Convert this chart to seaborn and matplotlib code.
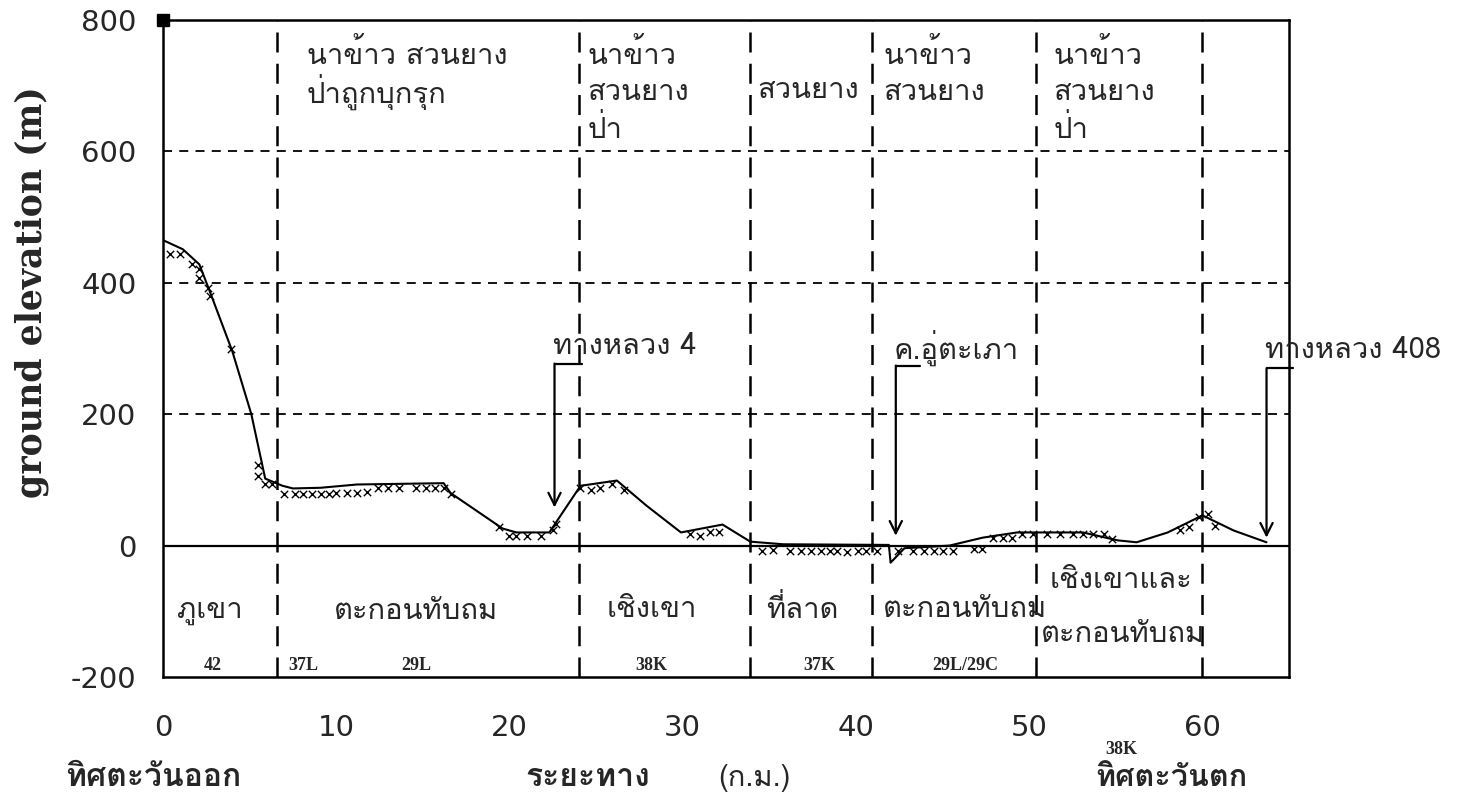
import numpy as np
import pandas as pd
import matplotlib
matplotlib.use("Agg")
import matplotlib.pyplot as plt
import seaborn as sns
from matplotlib import font_manager
from matplotlib.ft2font import FT2Font

# ---------------------------------------------------------------- data
# ground profile (km from the east end, elevation in m)
profile_km = [0, 1.15, 2.1, 2.7, 4.0, 5.1, 5.9, 6.9, 7.5, 9.1, 11.2, 16.2, 16.6,
              19.6, 20.4, 22.3, 24.1, 26.2, 27.9, 29.9, 32.3, 33.9, 35.8, 41.9,
              42.0, 42.8, 45.4, 47.3, 49.3, 53.1, 55.1, 56.2, 58.0, 60.0, 61.8, 63.7]
profile_m = [465, 451, 428, 387, 296, 200, 102, 91, 87, 88, 93, 95, 80,
             26, 20, 20, 91, 99, 61, 20, 32, 6, 2, 1,
             -26, -4, 0, 12, 20, 20, 8, 5, 20, 46, 23, 5]

# surveyed spot heights
spot_km = [0.4, 1.0, 1.7, 2.1, 2.1, 2.6, 2.7, 3.9, 5.5, 5.5, 5.9, 6.3,
           7.0, 7.6, 8.1, 8.6, 9.1, 9.6, 10.0, 10.6, 11.2, 11.8, 12.4, 13.0,
           13.6, 14.6, 15.2, 15.7, 16.2, 16.6, 19.4, 20.0, 20.4, 21.0, 21.8,
           22.5, 22.7, 24.1, 24.7, 25.2, 25.9, 26.6, 30.4, 31.0, 31.6, 32.1,
           34.6, 35.2, 36.2, 36.8, 37.4, 38.0, 38.5, 38.9, 39.5, 40.1, 40.6,
           41.2, 42.4, 43.3, 43.9, 44.5, 45.0, 45.6, 46.8, 47.3, 47.9, 48.5,
           49.0, 49.6, 50.2, 51.0, 51.8, 52.5, 53.1, 53.7, 54.3, 54.8, 58.7,
           59.2, 59.8, 60.3, 60.7]
spot_m = [444, 444, 428, 421, 407, 392, 380, 300, 122, 106, 94, 94,
          79, 79, 79, 79, 79, 79, 80, 80, 80, 82, 87, 87,
          87, 88, 88, 88, 88, 79, 28, 15, 15, 15, 15,
          23, 33, 88, 84, 88, 94, 84, 18, 15, 20, 20,
          -8, -7, -8, -9, -8, -8, -9, -8, -10, -9, -8,
          -8, -8, -9, -8, -8, -8, -8, -5, -5, 11, 11,
          11, 18, 18, 18, 18, 18, 18, 18, 18, 10, 23,
          28, 43, 48, 30]

# section boundaries (km)
boundaries = [6.6, 24.0, 33.9, 40.9, 50.4, 60.0]

# land use above the profile: (km, elevation of first text line, text)
landuse_km = [8.3, 24.5, 34.3, 41.6, 51.4]
landuse_m = [748, 748, 694, 748, 748]
landuse_txt = ["นาข้าว สวนยาง\nป่าถูกบุกรุก", "นาข้าว\nสวนยาง\nป่า", "สวนยาง",
               "นาข้าว\nสวนยาง", "นาข้าว\nสวนยาง\nป่า"]

# landforms below the profile
landform_km = [2.7, 14.6, 28.2, 36.9, 46.3, 55.3, 55.4]
landform_m = [-99, -99, -97, -97, -97, -53, -134]
landform_txt = ["ภูเขา", "ตะกอนทับถม", "เชิงเขา", "ที่ลาด", "ตะกอนทับถม",
                "เชิงเขาและ", "ตะกอนทับถม"]

# soil series codes
soil_km = [2.9, 8.1, 14.6, 28.2, 37.9, 46.3, 55.3]
soil_m = [-182, -182, -182, -182, -182, -182, -311]
soil_txt = ["42", "37L", "29L", "38K", "37K", "29L/29C", "38K"]

# landmarks with pointer arrows: label, label x, bar y, bar end x, arrow tip y
mark_txt = ["ทางหลวง 4", "ค.อู่ตะเภา", "ทางหลวง 408"]
mark_km = [22.6, 42.3, 63.7]
mark_bar_m = [277, 274, 270]
mark_bar_end = [24.2, 43.7, 65.2]
mark_tip_m = [58, 15, 12]

x_ticks = [0, 10, 20, 30, 40, 50, 60]
y_ticks = [-200, 0, 200, 400, 600, 800]


# ---------------------------------------------------------------- fonts
def thai_family():
    for f in font_manager.fontManager.ttflist:
        try:
            cmap = FT2Font(f.fname).get_charmap()
        except Exception:
            continue
        if 0x0E01 in cmap and 0x0E32 in cmap and 0x0E49 in cmap:
            return f.name
    return None


sns.set_style("white")
thai = thai_family()
thai_fam = [thai, "DejaVu Sans"] if thai else ["DejaVu Sans"]
plt.rcParams["font.family"] = thai_fam
plt.rcParams["axes.unicode_minus"] = False

fig = plt.figure(figsize=(14.67, 8.02), dpi=100)
ax = fig.add_axes([0.1111, 0.1559, 0.7676, 0.8191])

# section boundaries and grid
for b in boundaries:
    ax.axvline(b, color="black", lw=1.8, ls=(0, (8, 4.5)), zorder=1)
for g in [200, 400, 600]:
    ax.axhline(g, color="black", lw=1.3, ls=(0, (5, 4)), zorder=1)
ax.axhline(0, color="black", lw=1.6, zorder=2)

# profile and spot heights
prof = pd.DataFrame({"km": profile_km, "m": profile_m})
spots = pd.DataFrame({"km": spot_km, "m": spot_m})
sns.lineplot(data=prof, x="km", y="m", color="black", lw=1.5, sort=False,
             ax=ax, zorder=3)
sns.scatterplot(data=spots, x="km", y="m", marker="x", color="black", s=28,
                linewidth=1.0, ax=ax, zorder=4)

ax.set_xlim(0, 65)
ax.set_ylim(-200, 800)
ax.plot([0], [800], marker="s", color="black", ms=8, clip_on=False, zorder=5)

ax.set_xticks(x_ticks)
ax.set_xticks(np.arange(5, 65, 10), minor=True)
ax.set_yticks(y_ticks)
ax.set_yticks(np.arange(-100, 800, 200), minor=True)
ax.tick_params(axis="both", which="major", direction="inout", length=14,
               width=1.5, labelsize=21)
ax.tick_params(axis="both", which="minor", direction="inout", length=10,
               width=1.2)
ax.tick_params(axis="x", pad=20)
ax.tick_params(axis="y", pad=12)
for lab in ax.get_xticklabels() + ax.get_yticklabels():
    lab.set_family("DejaVu Sans")
for s in ax.spines.values():
    s.set_linewidth(1.8)
    s.set_color("black")

ax.set_xlabel("")
ax.set_ylabel("ground elevation (m)", family="DejaVu Serif",
              fontweight="bold", fontsize=25, va="center", ha="center")
ax.yaxis.set_label_coords(-0.117, 0.586)

# land use: one text line per row
row_step = 57
for x, y, t in zip(landuse_km, landuse_m, landuse_txt):
    for i, line in enumerate(t.split("\n")):
        ax.text(x, y - i * row_step, line, ha="left", va="center",
                fontsize=21, zorder=6)
# landforms
for x, y, t in zip(landform_km, landform_m, landform_txt):
    ax.text(x, y, t, ha="center", va="center", fontsize=21, zorder=6)
# soil codes
for x, y, t in zip(soil_km, soil_m, soil_txt):
    ax.text(x, y, t, ha="center", va="center", fontsize=13,
            family="Liberation Serif", fontweight="bold", clip_on=False)

# landmark pointers
for t, x, yb, xe, yt in zip(mark_txt, mark_km, mark_bar_m, mark_bar_end, mark_tip_m):
    ax.plot([xe, x], [yb, yb], color="black", lw=1.6, clip_on=False, zorder=6)
    ax.annotate("", xy=(x, yt), xytext=(x, yb),
                arrowprops=dict(arrowstyle="->", lw=1.6, color="black",
                                mutation_scale=22, shrinkA=0, shrinkB=0),
                annotation_clip=False, zorder=6)
    ax.text(x - 0.1, yb + 27, t, ha="left", va="center", fontsize=21,
            clip_on=False, zorder=6)

# bottom captions
cap_y = 1 - 778 / 802
fig.text(65 / 1467, cap_y, "ทิศตะวันออก", ha="left", va="center",
         fontsize=23, fontweight="bold")
fig.text(525 / 1467, cap_y, "ระยะทาง", ha="left", va="center",
         fontsize=23, fontweight="bold")
fig.text(718 / 1467, cap_y, "(ก.ม.)", ha="left", va="center",
         fontsize=21)
fig.text(1095 / 1467, cap_y, "ทิศตะวันตก", ha="left", va="center",
         fontsize=22, fontweight="bold")

fig.savefig("out.png", dpi=100, facecolor="white")
